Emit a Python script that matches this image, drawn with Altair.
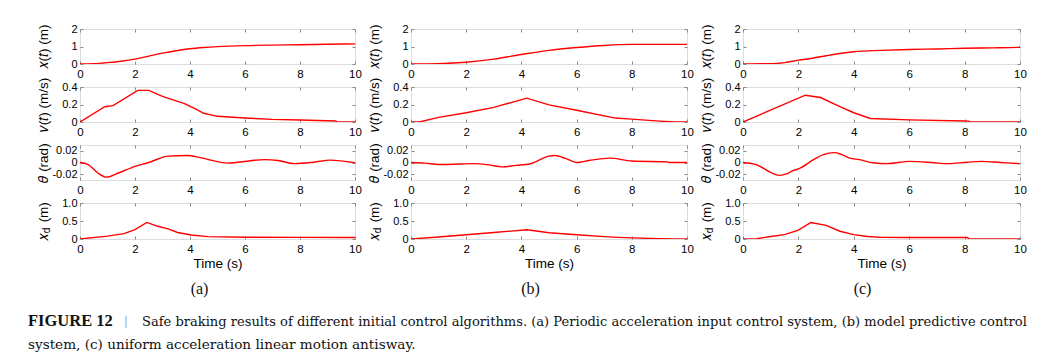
import altair as alt
import pandas as pd

AX = "#262626"
RED = "#ff0000"
SANS = "Noto Sans, DejaVu Sans"
SERIF = "DejaVu Serif"
SERIF2 = "Liberation Serif"

# ---------------- data ----------------
# (a) periodic acceleration input control
xa_t = [0, 0.5, 1, 1.5, 2, 2.5, 3, 3.5, 4, 4.5, 5, 6, 7, 8, 9, 10]
xa_v = [0, 0.02, 0.08, 0.16, 0.28, 0.45, 0.62, 0.76, 0.87, 0.94, 0.99, 1.05, 1.08, 1.10, 1.13, 1.15]
va_t = [0, 0.9, 1.2, 2.1, 2.5, 3.0, 3.8, 4.2, 4.5, 5.0, 6, 7, 8, 9.3, 9.35, 10]
va_v = [0, 0.175, 0.187, 0.362, 0.362, 0.293, 0.21, 0.15, 0.10, 0.065, 0.046, 0.03, 0.023, 0.011, 0, 0]
tha_t = [0, 0.3, 0.65, 0.95, 1.4, 2.0, 2.5, 3.2, 3.9, 4.4, 5.4, 6.2, 6.7, 7.2, 7.8, 8.5, 9.1, 10]
tha_v = [0, -0.0035, -0.018, -0.025, -0.018, -0.0065, 0, 0.011, 0.012, 0.008, -0.001, 0.003, 0.005,
         0.0035, -0.002, 0.0005, 0.004, -0.0005]
xda_t = [0, 1.0, 1.6, 2.0, 2.43, 2.8, 3.2, 3.55, 4.05, 4.65, 6, 8, 10]
xda_v = [0, 0.08, 0.15, 0.26, 0.46, 0.36, 0.28, 0.18, 0.11, 0.065, 0.05, 0.045, 0.04]

# (b) model predictive control
xb_t = [0, 1, 2, 3, 4, 5, 6, 7, 8, 9, 10]
xb_v = [0, 0.02, 0.10, 0.28, 0.54, 0.78, 0.94, 1.06, 1.12, 1.12, 1.12]
vb_t = [0, 0.3, 1, 2, 3, 4.2, 5.0, 6, 7.4, 8, 9, 9.6, 10]
vb_v = [0, 0, 0.053, 0.106, 0.167, 0.273, 0.196, 0.135, 0.045, 0.033, 0.01, 0, 0]
thb_t = [0, 0.5, 1.0, 1.8, 2.3, 2.8, 3.3, 3.8, 4.3, 5.0, 5.2, 5.6, 6.0, 6.45, 7.2, 8.0, 9.3, 9.35, 10]
thb_v = [0, -0.001, -0.0035, -0.0025, -0.002, -0.004, -0.0075, -0.005, -0.0025, 0.011, 0.012, 0.007,
         0, 0.0035, 0.0075, 0.0025, 0.001, 0, 0]
xdb_t = [0, 1, 2, 3, 4.2, 5, 6, 7, 7.5, 8, 9, 9.6, 10]
xdb_v = [0, 0.055, 0.12, 0.18, 0.257, 0.175, 0.12, 0.065, 0.045, 0.03, 0.01, 0, 0]

# (c) uniform acceleration linear motion antisway
xc_t = [0, 1, 1.5, 2, 2.5, 3, 3.5, 4, 5, 6, 7, 8, 9, 9.95, 10]
xc_v = [0, 0.02, 0.08, 0.22, 0.33, 0.47, 0.60, 0.70, 0.78, 0.83, 0.86, 0.90, 0.92, 0.95, 0.98]
vc_t = [0, 2.25, 2.8, 3.4, 4.0, 4.6, 6, 8, 8.15, 8.2, 10]
vc_v = [0, 0.306, 0.28, 0.19, 0.106, 0.04, 0.024, 0.012, 0.01, 0, 0]
thc_t = [0, 0.5, 1.0, 1.3, 1.6, 1.8, 2.0, 2.55, 2.9, 3.3, 3.55, 3.85, 4.2, 4.7, 5.2, 6.0, 6.9, 7.35,
         8.1, 8.6, 9.3, 10]
thc_v = [0, -0.004, -0.017, -0.022, -0.019, -0.014, -0.011, 0.005, 0.0135, 0.017, 0.014, 0.0075,
         0.005, -0.0005, -0.002, 0.002, -0.0005, -0.002, 0.0005, 0.002, 0, -0.002]
xdc_t = [0, 0.5, 1, 1.5, 2, 2.45, 3.0, 3.5, 4.0, 4.5, 5, 6, 8.1, 8.15, 8.2, 10]
xdc_v = [0, 0.01, 0.07, 0.12, 0.245, 0.46, 0.38, 0.215, 0.12, 0.07, 0.045, 0.04, 0.04, 0.01, 0, 0]

x_ticks = [0, 2, 4, 6, 8, 10]
row_titles = ["𝑥(𝑡) (m)", "𝑣(𝑡) (m/s)", "𝜃 (rad)", "𝑥\u2002 (m)"]
sub_title = "d"
row_domains = [[0, 2], [0, 0.4], [-0.03, 0.03], [0, 1]]
row_ticks = [[0, 1, 2], [0, 0.2, 0.4], [-0.02, 0, 0.02], [0, 0.5, 1.0]]
row_heights = [35, 35, 35, 36]
col_widths = [275, 276, 277]
col_labels = ["(a)", "(b)", "(c)"]
interp = ["monotone", "linear", "monotone", "linear"]

caption_bold = "FIGURE 12"
caption_line1 = ("Safe braking results of different initial control algorithms. (a) Periodic acceleration "
                 "input control system, (b) model predictive control")
caption_line2 = "system, (c) uniform acceleration linear motion antisway."

TK = 3
LFS = 11.5
YLFS = 11
TFS = 13.5


def caption_layers():
    d = alt.Chart(pd.DataFrame({"k": [0]}))
    return [
        d.mark_text(text=caption_bold, font=SERIF2, fontSize=16.5, fontWeight="bold", align="left",
                    baseline="alphabetic", color="#111111").encode(x=alt.value(-52), y=alt.value(123)),
        d.mark_text(text="|", font=SERIF2, fontSize=12, align="center", baseline="alphabetic",
                    color="#666666").encode(x=alt.value(46), y=alt.value(122)),
        d.mark_text(text=caption_line1, font=SERIF, fontSize=13.05, align="left", baseline="alphabetic",
                    color="#111111").encode(x=alt.value(62), y=alt.value(123)),
        d.mark_text(text=caption_line2, font=SERIF, fontSize=13.6, align="left", baseline="alphabetic",
                    color="#111111").encode(x=alt.value(-52), y=alt.value(146)),
    ]


def panel(t, v, row, col):
    h = row_heights[row]
    width = col_widths[col]
    bottom = row == 3
    df = pd.DataFrame({"t": t, "v": v})
    xs = alt.Scale(domain=[0, 10], nice=False, zero=False)
    ys = alt.Scale(domain=row_domains[row], nice=False, zero=False)
    lab_expr = "datum.value === 1 ? '1.0' : replace(datum.label, '−', '-')" if row == 3 else \
        "replace(datum.label, '−', '-')"
    xaxis_kw = dict(values=x_ticks, ticks=False, tickSize=0, domain=False, labelPadding=4,
                    labelFlush=False, labelOverlap=False, grid=False, labelFontSize=LFS)
    if bottom:
        xaxis_kw.update(title="Time (s)", titlePadding=1.5, titleFontSize=TFS, titleFontWeight="normal")
    else:
        xaxis_kw.update(title=None)
    main = alt.Chart(df).mark_line(color=RED, strokeWidth=1.4, interpolate=interp[row], clip=True).encode(
        x=alt.X("t:Q", scale=xs, axis=alt.Axis(**xaxis_kw)),
        y=alt.Y("v:Q", scale=ys, axis=alt.Axis(
            values=row_ticks[row], format="~g", labelExpr=lab_expr, ticks=False, tickSize=0,
            domain=False, labelPadding=3, labelOverlap=False, grid=False, labelFontSize=YLFS,
            title=row_titles[row], titleX=-37, titleY=h / 2, titleAngle=270,
            titleBaseline="middle", titleAlign="center", titleFontSize=TFS, titleFontWeight="normal")),
    )
    tick_kw = dict(ticks=True, tickSize=TK, offset=-TK, labels=False, domain=False, grid=False)
    if bottom:
        bx = alt.Axis(orient="bottom", values=x_ticks, title=col_labels[col], titleFont=SERIF2,
                      titleFontSize=16, titleFontWeight="normal", titleColor="#111111",
                      titleX=119, titleY=52, titleBaseline="middle", titleAlign="center", **tick_kw)
        ly = alt.Axis(orient="left", values=row_ticks[row], title=sub_title, titleFontSize=10,
                      titleFontWeight="normal", titleAngle=270, titleX=-37, titleY=h / 2 + 9,
                      titleBaseline="middle", titleAlign="center", **tick_kw)
    else:
        bx = alt.Axis(orient="bottom", values=x_ticks, title=None, **tick_kw)
        ly = alt.Axis(orient="left", values=row_ticks[row], title=None, **tick_kw)
    t1 = alt.Chart(df).mark_line(opacity=0).encode(
        x=alt.X("t:Q", scale=xs, axis=bx),
        y=alt.Y("v:Q", scale=ys, axis=ly),
    )
    t2 = alt.Chart(df).mark_line(opacity=0).encode(
        x=alt.X("t:Q", scale=xs, axis=alt.Axis(orient="top", values=x_ticks, title=None, **tick_kw)),
        y=alt.Y("v:Q", scale=ys, axis=alt.Axis(orient="right", values=row_ticks[row], title=None, **tick_kw)),
    )
    layers = [main, t1, t2]
    if bottom and col == 0:
        layers += caption_layers()
    return alt.layer(*layers).properties(width=width, height=h).resolve_axis(
        x="independent", y="independent")


series = [
    [(xa_t, xa_v), (va_t, va_v), (tha_t, tha_v), (xda_t, xda_v)],
    [(xb_t, xb_v), (vb_t, vb_v), (thb_t, thb_v), (xdb_t, xdb_v)],
    [(xc_t, xc_v), (vc_t, vc_v), (thc_t, thc_v), (xdc_t, xdc_v)],
]

panels = []
for ri in range(4):
    for ci in range(3):
        t, v = series[ci][ri]
        panels.append(panel(t, v, ri, ci))

chart = alt.concat(*panels, columns=3, spacing={"row": 23, "column": 56}, bounds="flush").properties(
    padding={"left": 19, "top": 14, "right": 5, "bottom": 5}
).configure_view(stroke=AX, strokeWidth=1).configure_axis(
    labelColor=AX, titleColor=AX, tickColor=AX, labelFont=SANS, titleFont=SANS
).configure(background="white")

chart.save("out.html", embed_options={"renderer": "svg", "actions": False})
